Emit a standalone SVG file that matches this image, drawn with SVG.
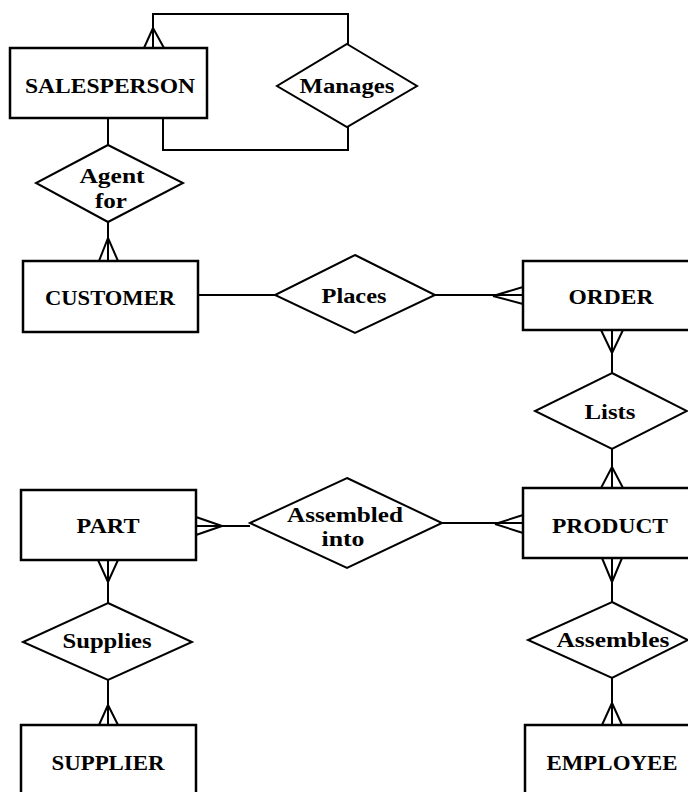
<svg xmlns="http://www.w3.org/2000/svg" width="688" height="792" viewBox="0 0 688 792">
<style>
.ent{fill:#fff;stroke:#000;stroke-width:2.5}
.rel{fill:#fff;stroke:#000;stroke-width:2}
.ln{fill:none;stroke:#000;stroke-width:2}
text{font-family:"Liberation Serif","Times New Roman",serif;font-size:20px;fill:#000;text-anchor:middle}
.b{font-weight:bold}
</style>
<rect width="688" height="792" fill="#fff"/>
<g id="connectors">
<path class="ln" d="M153,48 V14 H348 V44"/>
<path class="ln" d="M163,118 V150 H348 V127"/>
<path class="ln" d="M153,28 L144,48 M153,28 L153,48 M153,28 L164,48"/>
<path class="ln" d="M108,118 V145"/>
<path class="ln" d="M108,222 V261 M108,238 L99,261 M108,238 L118,261"/>
<path class="ln" d="M198,295 H275"/>
<path class="ln" d="M435,295 H523 M493,296 L523,287 M493,296 L523,304"/>
<path class="ln" d="M612,330 V373 M612,353 L601,330 M612,353 L623,330"/>
<path class="ln" d="M612,449 V488 M612,467 L601,488 M612,467 L623,488"/>
<path class="ln" d="M442,523 H523 M495,524 L523,515 M495,524 L523,533"/>
<path class="ln" d="M196,526 H250 M222,526 L196,517 M222,526 L196,535"/>
<path class="ln" d="M108,560 V603 M108,582 L98,560 M108,582 L118,560"/>
<path class="ln" d="M108,680 V725 M108,705 L99,725 M108,705 L118,725"/>
<path class="ln" d="M612,558 V602 M612,582 L602,558 M612,582 L622,558"/>
<path class="ln" d="M612,678 V725 M612,703 L602,725 M612,703 L622,725"/>
</g>
<g id="salesperson"><rect class="ent" x="10" y="48" width="197" height="70"/><text class="b" x="110" y="93" textLength="170" lengthAdjust="spacingAndGlyphs">SALESPERSON</text></g>
<g id="manages"><polygon class="rel" points="347,44 417,86 347,127 277,86"/><text class="b" x="347" y="93" textLength="95" lengthAdjust="spacingAndGlyphs">Manages</text></g>
<g id="agent-for"><polygon class="rel" points="108,145 183,183 108,222 36,183"/><text class="b" x="112" y="183" textLength="65" lengthAdjust="spacingAndGlyphs">Agent</text><text class="b" x="111" y="208" textLength="32" lengthAdjust="spacingAndGlyphs">for</text></g>
<g id="customer"><rect class="ent" x="23" y="261" width="175" height="71"/><text class="b" x="110" y="305" textLength="130" lengthAdjust="spacingAndGlyphs">CUSTOMER</text></g>
<g id="places"><polygon class="rel" points="355,255 435,295 355,333 275,295"/><text class="b" x="354" y="303" textLength="65" lengthAdjust="spacingAndGlyphs">Places</text></g>
<g id="order"><rect class="ent" x="523" y="261" width="180" height="69"/><text class="b" x="611" y="304" textLength="85" lengthAdjust="spacingAndGlyphs">ORDER</text></g>
<g id="lists"><polygon class="rel" points="612,373 687,411 612,449 535,411"/><text class="b" x="610" y="419" textLength="51" lengthAdjust="spacingAndGlyphs">Lists</text></g>
<g id="part"><rect class="ent" x="21" y="490" width="175" height="70"/><text class="b" x="108" y="533" textLength="63" lengthAdjust="spacingAndGlyphs">PART</text></g>
<g id="assembled-into"><polygon class="rel" points="347,478 442,523 347,568 250,523"/><text class="b" x="345" y="522" textLength="116" lengthAdjust="spacingAndGlyphs">Assembled</text><text class="b" x="343" y="546" textLength="43" lengthAdjust="spacingAndGlyphs">into</text></g>
<g id="product"><rect class="ent" x="523" y="488" width="180" height="70"/><text class="b" x="610" y="533" textLength="116" lengthAdjust="spacingAndGlyphs">PRODUCT</text></g>
<g id="supplies"><polygon class="rel" points="108,603 192,642 108,680 23,642"/><text class="b" x="107" y="648" textLength="89" lengthAdjust="spacingAndGlyphs">Supplies</text></g>
<g id="assembles"><polygon class="rel" points="612,602 688,640 612,678 528,640"/><text class="b" x="613" y="647" textLength="113" lengthAdjust="spacingAndGlyphs">Assembles</text></g>
<g id="supplier"><rect class="ent" x="21" y="725" width="175" height="80"/><text class="b" x="108" y="770" textLength="113" lengthAdjust="spacingAndGlyphs">SUPPLIER</text></g>
<g id="employee"><rect class="ent" x="525" y="725" width="180" height="80"/><text class="b" x="612" y="770" textLength="131" lengthAdjust="spacingAndGlyphs">EMPLOYEE</text></g>
</svg>
